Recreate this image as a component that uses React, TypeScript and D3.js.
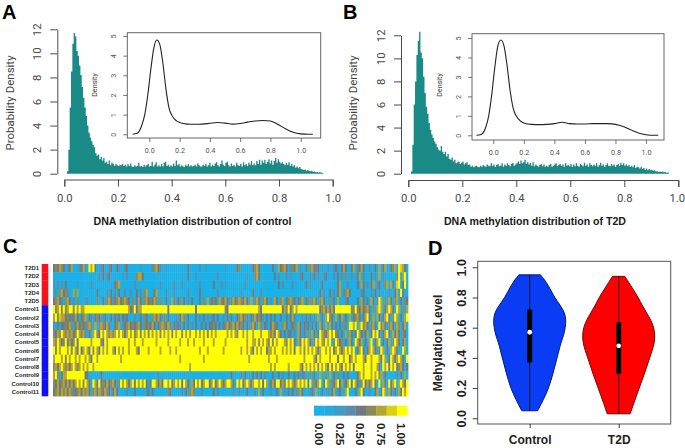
import { useRef, useEffect } from 'react';
import * as d3 from 'd3';

// histogram bins start at 0.01, each 0.005 wide
const binStart = 0.01;
const binWidth = 0.005;
const histControl = [
  0.2, 2, 5.5, 8.5, 10.8, 11.7, 11.4, 10.2, 9.8, 9, 8.2, 7.2, 6.3, 5.5, 4.8, 4, 3.4, 3, 2.7, 2.4,
  2.2, 1.7, 1.5, 1.6, 1.2, 1.4, 1.1, 1.3, 0.9, 1, 0.8, 1.1, 0.7, 0.9, 0.8, 0.65, 0.8, 0.7, 0.65, 0.75,
  0.7, 0.8, 0.65, 0.75, 0.6, 0.8, 0.65, 0.85, 0.6, 0.55, 0.7, 0.6, 0.65, 0.9, 0.6, 0.65, 0.55, 0.75, 0.6, 0.7,
  0.8, 0.6, 0.65, 1, 0.6, 0.75, 0.95, 0.6, 0.7, 0.6, 0.8, 0.6, 0.9, 1, 0.65, 0.75, 0.6, 0.7, 0.6, 0.85,
  0.65, 1.1, 0.7, 0.8, 0.6, 0.7, 0.6, 0.55, 0.75, 0.65, 0.8, 0.6, 0.7, 0.6, 0.65, 0.75, 0.6, 0.85, 0.7, 0.6,
  0.6, 0.75, 0.65, 0.8, 0.6, 0.7, 0.9, 0.6, 0.75, 0.65, 0.85, 0.95, 0.7, 0.6, 0.8, 1.1, 0.75, 0.65, 0.9, 1,
  0.7, 0.6, 0.85, 0.65, 0.75, 0.6, 0.9, 0.7, 0.65, 0.8, 0.6, 0.95, 0.7, 0.8, 0.65, 0.9, 0.75, 1.05, 0.7, 0.85,
  0.7, 1.05, 0.8, 1.15, 0.75, 1.1, 0.9, 1.15, 0.8, 1, 1.2, 0.85, 1.1, 0.75, 1.05, 1.3, 0.9, 1.2, 1, 0.85,
  0.95, 0.8, 0.7, 0.9, 0.75, 0.95, 0.65, 0.8, 0.6, 0.7, 0.5, 0.6, 0.45, 0.55, 0.4, 0.35, 0.3, 0.35, 0.25, 0.3,
  0.22, 0.2, 0.25, 0.15, 0.18, 0.12, 0.14, 0.1, 0.12, 0.1, 0.06, 0.08,
];
const histT2D = [
  0.2, 2.5, 6, 8, 10.3, 11.5, 12.3, 10.5, 10, 8.4, 7, 5.8, 5.2, 4.4, 3.8, 3.4, 3.1, 2.8, 2.6, 2.3,
  2.1, 2, 2.4, 1.9, 1.7, 1.9, 1.5, 1.7, 1.3, 1.2, 1.4, 1.05, 1.2, 0.9, 1, 1.05, 0.85, 0.95, 1.05, 0.8,
  0.9, 1, 0.75, 0.8, 0.6, 0.7, 0.55, 0.65, 0.7, 0.6, 0.55, 0.7, 0.6, 0.75, 0.65, 0.6, 0.8, 0.7, 0.65, 0.9,
  0.7, 0.8, 0.6, 0.75, 0.85, 0.65, 0.7, 0.9, 0.6, 0.8, 0.7, 0.9, 0.75, 0.65, 0.85, 0.95, 0.7, 0.8, 0.9, 1.05,
  0.85, 1.15, 0.9, 1, 1.2, 0.85, 1, 0.8, 0.95, 0.7, 1, 0.65, 0.8, 0.7, 0.6, 0.75, 0.85, 0.65, 0.8, 0.6,
  0.7, 0.6, 0.75, 0.85, 0.6, 0.7, 0.8, 0.9, 0.65, 0.75, 0.85, 0.7, 0.8, 0.6, 0.9, 0.7, 0.75, 0.65, 0.85, 0.6,
  0.8, 0.65, 0.9, 0.7, 0.6, 0.85, 0.75, 0.65, 0.95, 0.7, 0.8, 0.6, 0.9, 0.75, 0.65, 0.8, 0.7, 0.9, 0.6, 0.75,
  0.95, 0.7, 0.8, 0.6, 0.75, 0.9, 0.7, 0.65, 0.85, 0.7, 0.8, 0.6, 0.75, 0.85, 0.7, 0.95, 0.75, 0.9, 0.7, 0.8,
  0.65, 0.75, 0.6, 0.7, 0.55, 0.75, 0.5, 0.6, 0.55, 0.45, 0.6, 0.4, 0.5, 0.35, 0.45, 0.3, 0.4, 0.3, 0.35, 0.25,
  0.3, 0.2, 0.22, 0.15, 0.2, 0.14, 0.18, 0.12, 0.15, 0.08, 0.1, 0.06,
];

const densityX = [-0.11, -0.08, -0.05, -0.03, -0.01, 0.01, 0.03, 0.05, 0.07, 0.09, 0.11, 0.13, 0.15, 0.18, 0.2, 0.25, 0.3, 0.35, 0.4, 0.45, 0.5, 0.55, 0.6, 0.65, 0.7, 0.75, 0.8, 0.85, 0.9, 0.95, 1, 1.05, 1.08];
const densityControl = [0, 0.05, 0.45, 1, 2, 3.3, 4.4, 4.8, 4.55, 3.6, 2.3, 1.35, 0.95, 0.68, 0.6, 0.52, 0.51, 0.52, 0.56, 0.6, 0.57, 0.52, 0.55, 0.62, 0.68, 0.7, 0.68, 0.5, 0.28, 0.1, 0.02, 0, 0];
const densityT2D = [0, 0.04, 0.4, 1, 2.1, 3.5, 4.6, 4.9, 4.6, 3.6, 2.3, 1.4, 1, 0.72, 0.63, 0.56, 0.55, 0.56, 0.6, 0.67, 0.6, 0.58, 0.58, 0.6, 0.6, 0.6, 0.56, 0.45, 0.28, 0.12, 0.03, 0, 0];

const heatLabels = ['T2D1', 'T2D2', 'T2D3', 'T2D4', 'T2D5', 'Control1', 'Control2', 'Control3', 'Control4', 'Control5', 'Control6', 'Control7', 'Control8', 'Control9', 'Control10', 'Control11'];
// one digit per probe: index into heatColors
const heatRows = [
  '4546540246 0003462086 8400340034 0042003400 0000200000 3564300200 0000000040 0000300200 0000000200 0004500000 0456400000 0400645640 3546030040 5643402003 0034204640 0460346400 3004060460 0456087640',
  '0000000000 0000000000 0003040340 0000020300 0056640000 0000000000 0000000040 0030000000 0003000000 0000000020 0056400000 0040300030 2000034000 3040300340 0030403050 0300460300 0403060300 0000580680',
  '2030304000 0020000003 0000000000 0456000000 0300000000 0000300000 0300030000 0000300000 0400030200 0000000300 0000000000 0000403000 0300000040 3000004000 0000460003 0000406403 0460340056 0640780480',
  '0305645300 6060000000 0040000304 0304003003 0040305600 0460000300 0300000030 0000400000 0003000000 0000020000 0400030000 0000000000 0000000000 0000040300 4030460356 4000003400 0304030000 3004608400',
  '4564305640 3050002300 0050040564 3456456540 5046405645 4650500400 6304504030 4000405060 4540654640 5645654640 6056405640 3064056045 6540456045 0564056400 5040600034 0000406404 0640386050 6405604054',
  '8568585688 5868668888 8888888888 8888888864 5846688888 8888888848 8888888888 8848888888 8888888548 8888888888 8888648888 8888884658 4686888888 8888845646 4648888888 8558546456 4050686046 8640860506',
  '6857664543 4640456043 0454034004 0434043400 0300405400 5646405040 0030465040 0040304030 3404003040 4004564530 4364543040 4040040040 4630003040 4030604068 5406046040 6045640468 4060640468 4058604068',
  '3040445465 0464543565 0605654640 0456034564 5456405454 6404565465 0434304040 3040040404 4540404564 5646454040 5640650430 4654005640 3450640434 0404064060 6404040530 8868068564 0564085640 5640650460',
  '5465865656 4586563040 6854868656 5686864686 8568586858 6868586868 5868858686 8868686858 6868888868 6865886868 8688868886 5648640404 4030640405 0640486546 8685404060 6404864046 0486840468 4064640540',
  '6586458464 5848888886 8888548688 8888888868 8688868888 8868888868 8888688868 8688886888 8688888688 8888888868 8668586865 8586888658 6840648686 4058686586 8058645040 6408646040 6804680404 6058640460',
  '8586888685 8648468648 5864868688 6486868868 8864888868 8888688886 8868888888 8888688868 8888886888 8888868868 6486868846 6868886868 6848868586 8686468868 6846864686 8680468404 6864058604 0686400860',
  '6888685868 8686886864 8868888888 8888688888 8888888888 8888888888 8888688888 8888886888 8888888888 8888888886 8888888886 8886888888 8888888688 8864868888 6888488688 4686888648 8688864860 4864686408',
  '5646865646 8656868688 6888888888 8888888888 8888888888 8888888888 8888888886 8888888888 8888888888 8888888888 8888888888 6868888886 8888864868 6868586864 8586864868 6848888688 8688640868 4868456404',
  '6850466888 8888884400 0000400000 0000000000 0000000000 0003000000 0000000000 0000000000 0000000000 4000030400 0404040300 0400403004 0040404300 5040060050 6040500404 0000468688 8686856040 0000304060',
  '5464564646 4686858640 8648454645 6405868646 8486868404 8864648868 4686848640 6486846884 6846864688 6408684686 4688684860 4648846486 8646868684 8054680486 0546846046 8486405846 4684080640 8468068648',
  '4564656465 3456465640 5646546540 4640000300 0400000340 4000000054 0000030405 6500030000 0403000000 0300300040 0030604000 3004060304 0405064000 3406004003 0460340068 0004068400 3004604860 6404064868',
];
const heatColors = ['#1bb1e6', '#2aa8d9', '#3f9cc6', '#5a8dab', '#6d7a86', '#8c8a5a', '#b3a632', '#dccf16', '#ffff00'];
const heatTicks = [0, 0.25, 0.5, 0.75, 1];

const violinLevels = [
  [0.05, 0.1, 0.2, 0.3, 0.4, 0.5, 0.55, 0.6, 0.65, 0.7, 0.75, 0.8, 0.9, 0.95],
  [0.03, 0.1, 0.2, 0.3, 0.4, 0.45, 0.5, 0.55, 0.6, 0.65, 0.7, 0.75, 0.8, 0.9, 0.94],
];
const violinWidths = [
  [0.22, 0.33, 0.52, 0.65, 0.76, 0.87, 0.94, 0.985, 1, 0.96, 0.84, 0.7, 0.46, 0.3],
  [0.32, 0.42, 0.57, 0.72, 0.86, 0.93, 0.985, 1, 0.97, 0.89, 0.77, 0.65, 0.54, 0.28, 0.17],
];
const violinNames = ['Control', 'T2D'];
const violinColors = ['#0a3cf5', '#ff0000'];
const violinStrokes = ['#0a1a70', '#6a0a0a'];
const violinMedian = [0.57, 0.48];
const violinQ1 = [0.37, 0.295];
const violinQ3 = [0.72, 0.635];
const violinMin = [0.05, 0.03];
const violinMax = [0.95, 0.94];

const SANS = 'Roboto, "Noto Sans", sans-serif';
const BOLD = '"Liberation Sans", Arial, sans-serif';

type Sel = d3.Selection<SVGGElement, unknown, null, undefined>;

function styleAxis(g: Sel, color: string, width: number, size: number, family: string, weight = 'normal') {
  g.selectAll('path,line').attr('stroke', color).attr('stroke-width', width);
  g.selectAll('text').attr('fill', color).style('font-size', `${size}px`).style('font-family', family).style('font-weight', weight);
}

function rotateY(g: Sel, dx: number) {
  g.selectAll('text').attr('x', 0).attr('dy', 0).attr('text-anchor', 'middle').attr('dominant-baseline', 'central')
    .attr('transform', `translate(${dx},0) rotate(-90)`);
}

function drawHist(root: any, hist: number[], dens: number[], o: any) {
  const x = d3.scaleLinear().domain([0, 1]).range([o.x0, o.x1]);
  const y = d3.scaleLinear().domain([0, 12]).range([173.7, o.yTop]);
  const area = d3.area<number>()
    .x((_, i) => x(binStart + i * binWidth))
    .y0(y(0))
    .y1(d => y(d))
    .curve(d3.curveStepAfter);
  root.append('path').attr('d', area(hist)).attr('fill', '#1a8a86');

  const xAxis = root.append('g').attr('transform', `translate(0,${o.axisY})`)
    .call(d3.axisBottom(x).tickValues([0, 0.2, 0.4, 0.6, 0.8, 1]).tickFormat(d3.format('.1f')).tickSize(7).tickPadding(7));
  styleAxis(xAxis, '#4a4a4a', 1, 11.3, SANS);
  // keep the last label inside the page
  if (o.x1 > 670) xAxis.selectAll('text').filter((d: number) => d === 1).attr('x', -1.5);

  const yAxis = root.append('g').attr('transform', `translate(${o.yAxisX},0)`)
    .call(d3.axisLeft(y).tickValues([0, 2, 4, 6, 8, 10, 12]).tickSize(7).tickSizeOuter(0));
  styleAxis(yAxis, '#4a4a4a', 1, 11.3, SANS);
  rotateY(yAxis, -20);

  root.append('text').attr('transform', `translate(${o.yTitleX},103) rotate(-90)`).attr('text-anchor', 'middle')
    .attr('dominant-baseline', 'central').style('font-family', SANS).style('font-size', '11.5px').attr('fill', '#444')
    .text('Probability Density');
  root.append('text').attr('x', o.titleX).attr('y', 225).attr('text-anchor', 'middle')
    .style('font-family', BOLD).style('font-weight', 'bold').style('font-size', '10.6px').attr('fill', '#1a1a1a')
    .text(o.title);

  // inset
  const ix = d3.scaleLinear().domain([0, 1]).range([o.ix0, o.ix1]);
  const iy = d3.scaleLinear().domain([0, 5]).range([o.iy0, o.iy5]);
  root.append('rect').attr('x', o.boxL).attr('y', o.boxT).attr('width', o.boxR - o.boxL).attr('height', o.boxB - o.boxT)
    .attr('fill', '#fff').attr('stroke', '#666').attr('stroke-width', 1);
  const line = d3.line<number>().x((_, i) => ix(densityX[i])).y(d => iy(d)).curve(d3.curveMonotoneX);
  root.append('path').attr('d', line(dens)).attr('fill', 'none').attr('stroke', '#222').attr('stroke-width', 1.1);

  const ixAxis = root.append('g').attr('transform', `translate(0,${o.boxB})`)
    .call(d3.axisBottom(ix).tickValues([0, 0.2, 0.4, 0.6, 0.8, 1]).tickFormat(d3.format('.1f')).tickSize(4).tickPadding(6));
  styleAxis(ixAxis, '#555', 0.8, 7.2, SANS);
  ixAxis.select('.domain').remove();
  const iyAxis = root.append('g').attr('transform', `translate(${o.boxL},0)`)
    .call(d3.axisLeft(iy).tickValues([0, 1, 2, 3, 4, 5]).tickFormat(d3.format('d')).tickSize(4));
  styleAxis(iyAxis, '#555', 0.8, 7.2, SANS);
  iyAxis.select('.domain').remove();
  rotateY(iyAxis, -14);
  root.append('text').attr('transform', `translate(${o.boxL - 33},85) rotate(-90)`).attr('text-anchor', 'middle')
    .attr('dominant-baseline', 'central').style('font-family', SANS).style('font-size', '7.2px').attr('fill', '#444')
    .text('Density');
}

function panelLabel(root: any, s: string, x: number, y: number) {
  root.append('text').attr('x', x).attr('y', y).style('font-family', BOLD).style('font-weight', 'bold')
    .style('font-size', '20px').attr('fill', '#000').text(s);
}

const App = () => {
  const svgRef = useRef<SVGSVGElement>(null);

  useEffect(() => {
    const svg = d3.select(svgRef.current);
    svg.selectAll('*').remove();
    const root: any = svg.append('g');

    svg.append('defs').append('filter').attr('id', 'soft').append('feGaussianBlur').attr('stdDeviation', 0.45);

    panelLabel(root, 'A', 2, 19);
    panelLabel(root, 'B', 343, 19);
    panelLabel(root, 'C', 3, 253);
    panelLabel(root, 'D', 428, 255);

    drawHist(root, histControl, densityControl, {
      x0: 64.3, x1: 332.7, yTop: 29.3, axisY: 179.5, yAxisX: 57.3, yTitleX: 10, titleX: 192.5,
      title: 'DNA methylation distribution of control',
      ix0: 149.3, ix1: 300.7, iy0: 134.3, iy5: 36, boxL: 127.3, boxR: 320.7, boxT: 32.7, boxB: 138,
    });
    drawHist(root, histT2D, densityT2D, {
      x0: 408.3, x1: 678.3, yTop: 35.3, axisY: 180, yAxisX: 401, yTitleX: 352.7, titleX: 535,
      title: 'DNA methylation distribution of T2D',
      ix0: 493.3, ix1: 646, iy0: 135.3, iy5: 38, boxL: 472, boxR: 664, boxT: 33.7, boxB: 140,
    });

    // heatmap
    const rows = heatRows.map(r => r.replace(/ /g, ''));
    const cols = d3.range(rows[0].length);
    const hx = d3.scaleBand<number>().domain(cols).range([53, 408]);
    const hy = d3.scaleBand<string>().domain(heatLabels).range([264, 396]);
    const heat = root.append('g').attr('filter', 'url(#soft)');
    rows.forEach((r, ri) => {
      heat.selectAll(null).data(r.split('')).enter().append('rect')
        .attr('x', (_: string, i: number) => hx(i))
        .attr('y', hy(heatLabels[ri]))
        .attr('width', hx.bandwidth() + 0.4)
        .attr('height', hy.bandwidth() + 0.4)
        .attr('fill', (d: string) => heatColors[+d]);
    });
    root.selectAll(null).data(heatLabels).enter().append('rect')
      .attr('x', 41.7).attr('width', 6.6)
      .attr('y', (d: string) => hy(d)).attr('height', hy.bandwidth() + 0.3)
      .attr('fill', (d: string) => (d.startsWith('T2D') ? '#f5101a' : '#1010f0'));
    root.selectAll(null).data(heatLabels).enter().append('text')
      .attr('x', 39).attr('y', (d: string) => (hy(d) as number) + hy.bandwidth() / 2)
      .attr('text-anchor', 'end').attr('dominant-baseline', 'central')
      .style('font-family', '"Liberation Sans Narrow", "Liberation Sans", sans-serif').style('font-weight', 'bold')
      .style('font-size', '5.9px').attr('fill', '#222')
      .text((d: string) => d);

    // colour key
    const keyX = d3.scaleBand<number>().domain(d3.range(heatColors.length)).range([314, 407.3]);
    root.selectAll(null).data(heatColors).enter().append('rect')
      .attr('x', (_: string, i: number) => keyX(i)).attr('y', 405.7)
      .attr('width', keyX.bandwidth() + 0.3).attr('height', 10)
      .attr('fill', (d: string) => d);
    const keyTick = d3.scaleLinear().domain([0, 1]).range([319.3, 401.3]);
    root.selectAll(null).data(heatTicks).enter().append('text')
      .attr('transform', (d: number) => `translate(${keyTick(d)},423) rotate(90)`)
      .attr('dominant-baseline', 'central')
      .style('font-family', BOLD).style('font-weight', 'bold').style('font-size', '11.5px').attr('fill', '#222')
      .text((d: number) => d3.format('.2f')(d));

    // violins
    const vx = d3.scaleLinear().domain([1, 2]).range([529.7, 618.7]);
    const vy = d3.scaleLinear().domain([0, 1]).range([418.3, 267.3]);
    const vw = d3.scaleLinear().domain([0, 1]).range([0, 36]);
    root.append('rect').attr('x', 477.7).attr('y', 261.3).attr('width', 193).attr('height', 162.7)
      .attr('fill', '#fff').attr('stroke', '#555').attr('stroke-width', 1);
    violinNames.forEach((name, i) => {
      const c = vx(i + 1);
      const area = d3.area<number>()
        .y((_, k) => vy(violinLevels[i][k]))
        .x0(d => c - vw(d))
        .x1(d => c + vw(d))
        .curve(d3.curveCatmullRom);
      root.append('path').attr('d', area(violinWidths[i]) + 'Z').attr('fill', violinColors[i])
        .attr('stroke', violinStrokes[i]).attr('stroke-width', 1);
      root.append('line').attr('x1', c).attr('x2', c).attr('y1', vy(violinMin[i])).attr('y2', vy(violinMax[i]))
        .attr('stroke', '#111').attr('stroke-width', 0.9);
      root.append('rect').attr('x', c - 2.5).attr('width', 5).attr('y', vy(violinQ3[i]))
        .attr('height', vy(violinQ1[i]) - vy(violinQ3[i])).attr('fill', '#000');
      root.append('circle').attr('cx', c).attr('cy', vy(violinMedian[i])).attr('r', 2.4).attr('fill', '#fff');
    });
    const vxAxis = root.append('g').attr('transform', 'translate(0,424)')
      .call(d3.axisBottom(vx).tickValues([1, 2]).tickFormat((_: any, i: number) => violinNames[i]).tickSize(4).tickPadding(7));
    styleAxis(vxAxis, '#222', 0.9, 12, BOLD, 'bold');
    vxAxis.select('.domain').remove();
    const vyAxis = root.append('g').attr('transform', 'translate(477.7,0)')
      .call(d3.axisLeft(vy).tickValues([0, 0.2, 0.4, 0.6, 0.8, 1]).tickFormat(d3.format('.1f')).tickSize(5));
    styleAxis(vyAxis, '#222', 0.9, 12.5, BOLD, 'bold');
    vyAxis.select('.domain').remove();
    rotateY(vyAxis, -15.5);
    root.append('text').attr('transform', 'translate(438,343) rotate(-90)').attr('text-anchor', 'middle')
      .attr('dominant-baseline', 'central').style('font-family', BOLD).style('font-weight', 'bold')
      .style('font-size', '12px').attr('fill', '#222').text('Mehylation Level');
  }, []);

  return (
    <svg ref={svgRef} width="685" height="448" style={{ position: 'absolute', left: 0, top: 0, background: '#fff' }}></svg>
  );
};

export default App;
